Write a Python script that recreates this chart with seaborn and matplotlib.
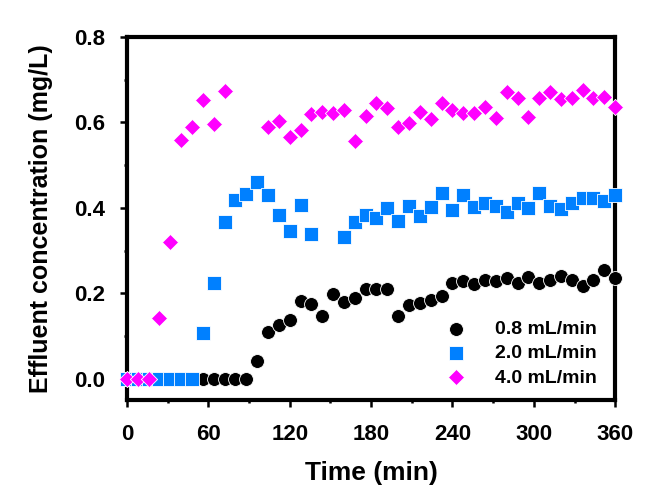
import numpy as np
import pandas as pd
import matplotlib
matplotlib.use('Agg')
import matplotlib.pyplot as plt
from matplotlib.ticker import MultipleLocator
import seaborn as sns

# time points (min) and effluent concentration (mg/L)
t_08 = [0, 8, 16, 24, 32, 40, 48, 56, 64, 72, 80, 88, 96, 104, 112, 120, 128, 136, 144,
        152, 160, 168, 176, 184, 192, 200, 208, 216, 224, 232, 240, 248, 256, 264, 272,
        280, 288, 296, 304, 312, 320, 328, 336, 344, 352, 360]
c_08 = [0, 0, 0, 0, 0, 0, 0, 0, 0, 0, 0, 0, 0.041, 0.110, 0.127, 0.137, 0.181, 0.176, 0.148,
        0.198, 0.180, 0.188, 0.210, 0.210, 0.210, 0.147, 0.173, 0.178, 0.184, 0.193, 0.224,
        0.228, 0.221, 0.231, 0.228, 0.236, 0.225, 0.238, 0.225, 0.232, 0.240, 0.231, 0.217,
        0.232, 0.254, 0.235]

t_20 = [0, 8, 16, 24, 32, 40, 48, 56, 64, 72, 80, 88, 96, 104, 112, 120, 128, 136,
        160, 168, 176, 184, 192, 200, 208, 216, 224, 232, 240, 248, 256, 264, 272,
        280, 288, 296, 304, 312, 320, 328, 336, 344, 352, 360]
c_20 = [0, 0, 0, 0, 0, 0, 0, 0.106, 0.223, 0.366, 0.419, 0.433, 0.461, 0.430, 0.384, 0.346,
        0.407, 0.339, 0.332, 0.366, 0.384, 0.376, 0.400, 0.368, 0.405, 0.380, 0.402, 0.434,
        0.395, 0.430, 0.402, 0.411, 0.405, 0.391, 0.412, 0.400, 0.434, 0.405, 0.398, 0.412,
        0.423, 0.423, 0.417, 0.431]

t_40 = [0, 8, 16, 24, 32, 40, 48, 56, 64, 72, 104, 112, 120, 128, 136, 144, 152, 160, 168,
        176, 184, 192, 200, 208, 216, 224, 232, 240, 248, 256, 264, 272, 280, 288, 296,
        304, 312, 320, 328, 336, 344, 352, 360]
c_40 = [0, 0, 0, 0.142, 0.321, 0.559, 0.590, 0.652, 0.597, 0.673, 0.588, 0.602, 0.565, 0.583,
        0.619, 0.624, 0.621, 0.628, 0.557, 0.614, 0.645, 0.633, 0.588, 0.598, 0.625, 0.607,
        0.645, 0.628, 0.622, 0.622, 0.635, 0.610, 0.672, 0.658, 0.613, 0.656, 0.672, 0.655,
        0.658, 0.676, 0.656, 0.659, 0.635]

labels = ['0.8 mL/min', '2.0 mL/min', '4.0 mL/min']

sns.set_style('ticks')
plt.rcParams['font.family'] = ['Liberation Sans', 'DejaVu Sans']
plt.rcParams['font.weight'] = 'bold'
plt.rcParams['text.color'] = 'black'
plt.rcParams['axes.labelcolor'] = 'black'
plt.rcParams['xtick.color'] = 'black'
plt.rcParams['ytick.color'] = 'black'
plt.rcParams['axes.edgecolor'] = 'black'

fig = plt.figure(figsize=(6.51, 4.91), dpi=100)
ax = fig.add_axes([0.195, 0.185, 0.75, 0.74])

series = [(t_08, c_08, 'o', 'black', 100),
          (t_20, c_20, 's', '#0080ff', 100),
          (t_40, c_40, 'D', '#ff00ff', 68)]
for (t, c, m, col, s), lab in zip(series, labels):
    df = pd.DataFrame({'Time': t, 'Conc': c})
    sns.scatterplot(data=df, x='Time', y='Conc', marker=m, color=col, s=s,
                    edgecolor='white', linewidth=0.6, label=lab, ax=ax, clip_on=False, zorder=3)

ax.set_xlim(0, 360)
ax.set_ylim(-0.05, 0.8)
ax.xaxis.set_major_locator(MultipleLocator(60))
ax.xaxis.set_minor_locator(MultipleLocator(30))
ax.yaxis.set_minor_locator(MultipleLocator(0.1))
ax.set_yticks([0, 0.2, 0.4, 0.6, 0.8])
ax.set_yticklabels(['0.0', '0.2', '0.4', '0.6', '0.8'])

for sp in ax.spines.values():
    sp.set_linewidth(3)
    sp.set_color('black')
    sp.set_visible(True)
ax.tick_params(which='major', direction='out', length=5, width=1.8, labelsize=16)
ax.tick_params(which='minor', direction='out', length=2.5, width=1.8)
ax.tick_params(axis='x', which='major', pad=12)
ax.tick_params(axis='y', which='major', pad=11)

ax.set_xlabel('Time (min)', fontsize=19, fontweight='bold', labelpad=12)
ax.set_ylabel('Effluent concentration (mg/L)', fontsize=18, fontweight='bold', labelpad=15)

leg = ax.legend(loc='lower right', frameon=False, fontsize=14, labelspacing=0.35,
                handletextpad=1.0, borderaxespad=0.3, bbox_to_anchor=(0.99, 0.0))

fig.savefig('out.png', dpi=100)
